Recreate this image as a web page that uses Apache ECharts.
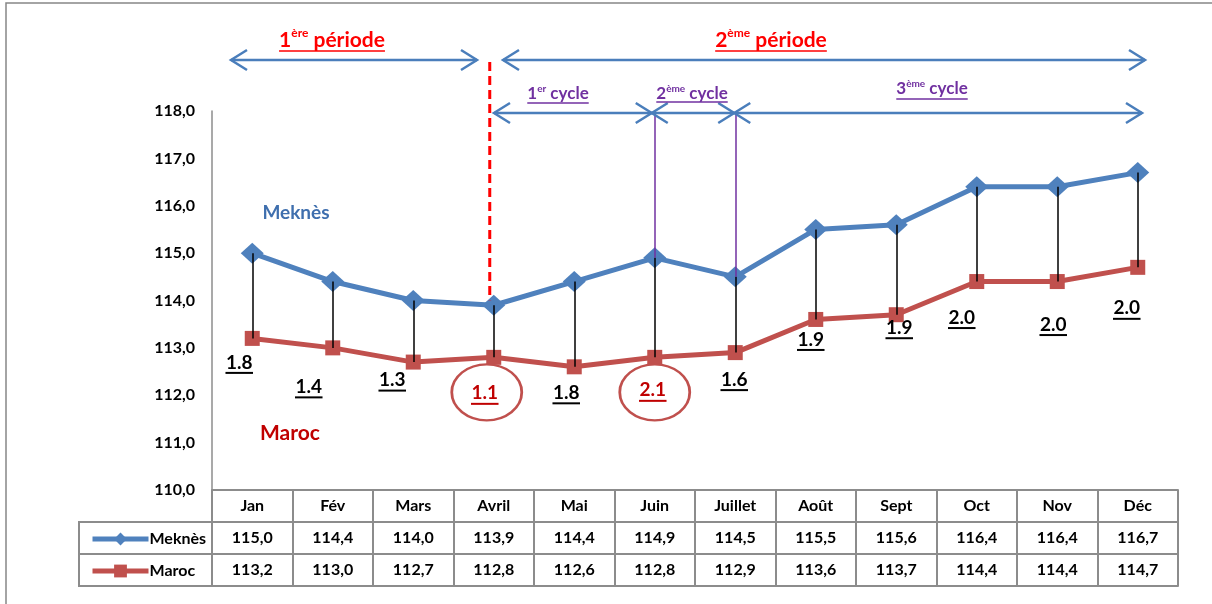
<!DOCTYPE html>
<html><head><meta charset="utf-8">
<script src="https://cdn.jsdelivr.net/npm/echarts@6/dist/echarts.min.js"></script>
<style>html,body{margin:0;padding:0;background:#fff}#c{width:1212px;height:604px}</style>
</head><body><div id="c"></div>
<script>
// ---------- data ----------
const months = ['Jan','Fév','Mars','Avril','Mai','Juin','Juillet','Août','Sept','Oct','Nov','Déc'];
const meknes = [115.0,114.4,114.0,113.9,114.4,114.9,114.5,115.5,115.6,116.4,116.4,116.7];
const maroc  = [113.2,113.0,112.7,112.8,112.6,112.8,112.9,113.6,113.7,114.4,114.4,114.7];
const gaps   = ['1.8','1.4','1.3','1.1','1.8','2.1','1.6','1.9','1.9','2.0','2.0','2.0'];
const circled = [3,5];          // months whose gap is circled
const cycleBreaks = [5,6];      // Juin, Juillet
const periodBreak = 3;          // Avril
const yMin = 110, yMax = 118, yStep = 1;

// ---------- layout / style (not data) ----------
const FONT = 'Lato, "Open Sans", sans-serif';
const BLUE = '#4F81BD', RED = '#C0504D', DARKRED = '#C00000', PURPLE = '#7030A0', ARROW = '#4A7EBB', GRID = '#8C8C8C';
const gapOffsets = [[-13,25],[-24,40],[-21,19],[-9,37],[-8,27],[-2,34],[-1,28],[-5,21],[3,14],[-15,37],[-4,44],[-11,42]];
const circleOffsets = {3:[-7,35],5:[0,35]};

const fmt = v => v.toFixed(1).replace('.',',');
const cvs = document.createElement('canvas').getContext('2d');
function tw(text, font){ cvs.font = font; return cvs.measureText(text).width; }

const chart = echarts.init(document.getElementById('c'), null, {renderer:'canvas'});

const gapData = gaps.map((g,i)=>{
  const col = circled.includes(i) ? DARKRED : '#000';
  const w = tw(g, 'bold 19px Lato');
  return {
    value:[i, maroc[i]],
    label:{
      offset: gapOffsets[i],
      formatter: '{t|'+g+'}\n{u| }',
      rich:{
        t:{fontSize:19,fontWeight:'bold',fontFamily:FONT,color:col,lineHeight:19},
        u:{width:w+1,height:2,lineHeight:2,fontSize:1,backgroundColor:col}
      }
    }
  };
});

const dropLines = months.map((m,i)=>[{coord:[m, meknes[i]]},{coord:[m, maroc[i]]}]);
const cycleLines = cycleBreaks.map(i=>[
  {coord:[months[i], yMax], lineStyle:{color:PURPLE,width:1.5}},
  {coord:[months[i], meknes[i]]}
]);

const catAxisBase = {
  type:'category', position:'bottom', boundaryGap:true,
  axisLine:{show:true,lineStyle:{color:GRID,width:2}},
  axisTick:{show:false},
  splitLine:{show:false},
  axisLabel:{interval:0,margin:8,fontSize:16,fontWeight:'bold',fontFamily:FONT,color:'#000',lineHeight:16}
};

chart.setOption({
  animation:false,
  backgroundColor:'#fff',
  grid:{left:212,right:34,top:111,bottom:114,containLabel:false},
  legend:{
    data:['Meknès','Maroc'], orient:'vertical', left:85, top:526,
    itemWidth:56, itemHeight:16, itemGap:16,
    lineStyle:{width:5},
    textStyle:{fontSize:16,fontWeight:'bold',fontFamily:FONT,color:'#000',lineHeight:16,padding:[0,0,0,-4]},
    selectedMode:false
  },
  xAxis:[
    Object.assign({}, catAxisBase, {data:months,
      axisTick:{show:true,length:96,alignWithLabel:false,lineStyle:{color:GRID,width:2}}}),
    Object.assign({}, catAxisBase, {data:meknes.map(fmt), offset:32}),
    Object.assign({}, catAxisBase, {data:maroc.map(fmt), offset:64}),
    Object.assign({}, catAxisBase, {data:months, offset:96, axisLabel:{show:false}})
  ],
  yAxis:{
    type:'value', min:yMin, max:yMax, interval:yStep,
    axisLine:{show:true,lineStyle:{color:GRID,width:1.5}},
    axisTick:{show:false}, splitLine:{show:false},
    axisLabel:{margin:17,fontSize:16,fontWeight:'bold',fontFamily:FONT,color:'#000',formatter:v=>fmt(v)}
  },
  series:[
    {name:'Meknès',type:'line',data:meknes,symbol:'diamond',symbolSize:[23,21],
     lineStyle:{color:BLUE,width:5},itemStyle:{color:BLUE},z:2},
    {name:'Maroc',type:'line',data:maroc,symbol:'rect',symbolSize:15,
     lineStyle:{color:RED,width:5},itemStyle:{color:RED},z:2,
     markLine:{silent:true,symbol:['none','none'],label:{show:false},animation:false,
       lineStyle:{color:'#000',width:1.5,type:'solid'},
       emphasis:{disabled:true},
       data:dropLines.concat(cycleLines)}},
    {name:'gaps',type:'scatter',data:gapData,symbolSize:1,itemStyle:{color:'rgba(0,0,0,0)',opacity:1},
     label:{show:true,position:'inside',opacity:1},silent:true,z:6},
    {name:'circles',type:'scatter',silent:true,z:6,
     symbol:'path://M0,50 A50,50 0 1,1 100,50 A50,50 0 1,1 0,50 Z',symbolSize:[70,56],
     itemStyle:{color:'rgba(0,0,0,0)',borderColor:RED,borderWidth:2.5,opacity:1},
     data:circled.map(i=>({value:[i, maroc[i]], symbolOffset:circleOffsets[i]}))}
  ]
});

// ---------- annotations ----------
const px = (i,v)=>chart.convertToPixel({xAxisIndex:0,yAxisIndex:0},[i,v]);
const g = [];
function line(pts, stroke, w, dash){
  g.push({type:'polyline',silent:true,z:10,shape:{points:pts},
    style:{stroke:stroke,lineWidth:w,fill:null,lineDash:dash||null}});
}
function head(x,y,dir){ // dir -1 = pointing left, 1 = right
  line([[x-dir*16,y-10],[x,y],[x-dir*16,y+10]], ARROW, 2.5);
}
function text(t,x,y,font,color,align){
  g.push({type:'text',silent:true,z:10,style:{text:t,x:x,y:y,font:font,fill:color,
    align:align||'left',verticalAlign:'middle',textAlign:align||'left',textVerticalAlign:'middle'}});
}
function supTitle(parts, cx, cy, size, supSize, color, ulY){
  const bf = 'bold '+size+'px '+FONT, sf = 'bold '+supSize+'px '+FONT;
  const ws = parts.map(p=>tw(p[0], p[1]?sf:bf));
  const total = ws.reduce((a,b)=>a+b,0);
  let x = cx - total/2; const x0 = x;
  parts.forEach((p,k)=>{
    text(p[0], x, p[1] ? cy - size*0.32 : cy, p[1]?sf:bf, color);
    x += ws[k];
  });
  line([[x0,ulY],[x0+total,ulY]], color, 1.5);
}

// outer frame
g.push({type:'rect',silent:true,z:0,shape:{x:6,y:3,width:1230,height:700},style:{fill:null,stroke:'#868686',lineWidth:1.5}});
// legend column of the data table
line([[79,522],[212,522]], GRID, 2);
line([[79,554],[212,554]], GRID, 2);
line([[79,586],[212,586]], GRID, 2);
line([[79,521],[79,587]], GRID, 2);

// period arrows
const yP = 60;
line([[231,yP],[477,yP]], ARROW, 2.5); head(231,yP,-1); head(477,yP,1);
line([[503,yP],[1145,yP]], ARROW, 2.5); head(503,yP,-1); head(1145,yP,1);
// cycle arrows
const yC = 113;
const xb1 = px(cycleBreaks[0], yMax)[0]-3, xb2 = px(cycleBreaks[1], yMax)[0]-1;
line([[494,yC],[1142,yC]], ARROW, 2.5);
head(494,yC,-1); head(xb1,yC,1); head(xb1,yC,-1); head(xb2,yC,1); head(xb2,yC,-1); head(1142,yC,1);

// red dashed break line
const pb = px(periodBreak, meknes[periodBreak]);
line([[pb[0]-4,62],[pb[0]-4,pb[1]-5]], '#FF0000', 3, [9,5]);

// titles
supTitle([['1',false],['ère',true],[' période',false]], 332, 40, 21, 12, '#FF0000', 51);
supTitle([['2',false],['ème',true],[' période',false]], 771, 40, 21, 12, '#FF0000', 51);
supTitle([['1',false],['er',true],[' cycle',false]], 558, 94, 17, 10, PURPLE, 103);
supTitle([['2',false],['ème',true],[' cycle',false]], 692, 94, 17, 10, PURPLE, 102);
supTitle([['3',false],['ème',true],[' cycle',false]], 932, 89, 17, 10, PURPLE, 99);

// series name labels
text('Meknès', 296, 213, 'bold 19px '+FONT, '#3F6FAE', 'center');
text('Maroc', 290, 433, 'bold 21px '+FONT, DARKRED, 'center');

chart.setOption({graphic:{elements:g}});
</script></body></html>
